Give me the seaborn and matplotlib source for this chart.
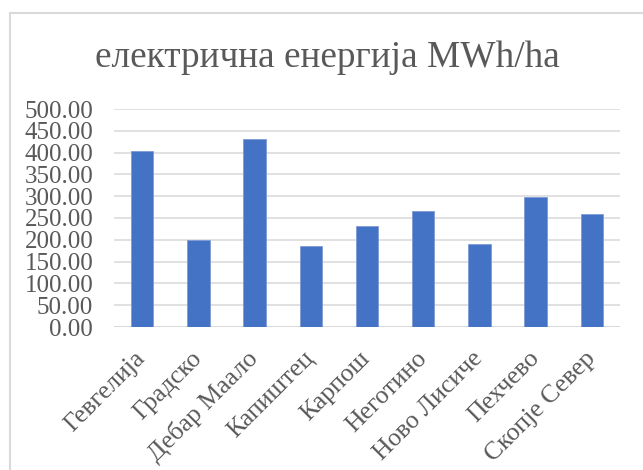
import matplotlib
matplotlib.use("Agg")
import matplotlib.pyplot as plt
from matplotlib.patches import Rectangle
from matplotlib.ticker import FormatStrFormatter
import seaborn as sns
import pandas as pd

# Electricity use per hectare by municipality
municipalities = ["Гевгелија", "Градско", "Дебар Маало", "Капиштец", "Карпош",
                  "Неготино", "Ново Лисиче", "Пехчево", "Скопје Север"]
energy_mwh_ha = [403, 200, 431, 186, 232, 266, 190, 298, 260]
y_ticks = [0, 50, 100, 150, 200, 250, 300, 350, 400, 450, 500]
title_text = "електрична енергија MWh/ha"

df = pd.DataFrame({"municipality": municipalities, "energy": energy_mwh_ha})

sns.set_style("white")
plt.rcParams["font.family"] = ["Liberation Serif", "DejaVu Serif"]

text_grey = "#595959"
grid_grey = "#d9d9d9"
bar_blue = "#4472C4"

fig = plt.figure(figsize=(6.43, 4.70), dpi=100)
ax = fig.add_axes([114 / 643, 1 - 327 / 470, (620 - 114) / 643, (327 - 109) / 470])

sns.barplot(data=df, x="municipality", y="energy", color=bar_blue, width=0.4,
            saturation=1, edgecolor="#7f9bd6", linewidth=0.6, ax=ax, zorder=3)

ax.set_ylim(0, 500)
ax.set_xlim(-0.5, len(municipalities) - 0.5)
ax.set_yticks(y_ticks)
ax.yaxis.set_major_formatter(FormatStrFormatter("%.2f"))
ax.yaxis.grid(True, color=grid_grey, linewidth=1.1, zorder=0)
ax.set_axisbelow(True)
for side in ["top", "right", "left", "bottom"]:
    ax.spines[side].set_visible(False)
ax.axhline(0, color=grid_grey, linewidth=1.3, zorder=2)

ax.set_xlabel("")
ax.set_ylabel("")
ax.tick_params(axis="both", length=0)
ax.tick_params(axis="y", pad=15, labelsize=18, labelcolor=text_grey)
ax.tick_params(axis="x", pad=20, labelsize=18.5, labelcolor=text_grey)
for lbl in ax.get_xticklabels():
    lbl.set_rotation(45)
    lbl.set_ha("right")
    lbl.set_va("center")
    lbl.set_rotation_mode("anchor")

fig.text(327 / 643, 1 - 58 / 470, title_text, ha="center", va="center",
         fontsize=26.8, color=text_grey)

# chart frame
fig.patches.append(Rectangle((9.5 / 643, -0.1), 1.2, 1 - 13 / 470 + 0.1,
                             transform=fig.transFigure, fill=False,
                             edgecolor=grid_grey, linewidth=1.5))

fig.savefig("out.png", dpi=100)
